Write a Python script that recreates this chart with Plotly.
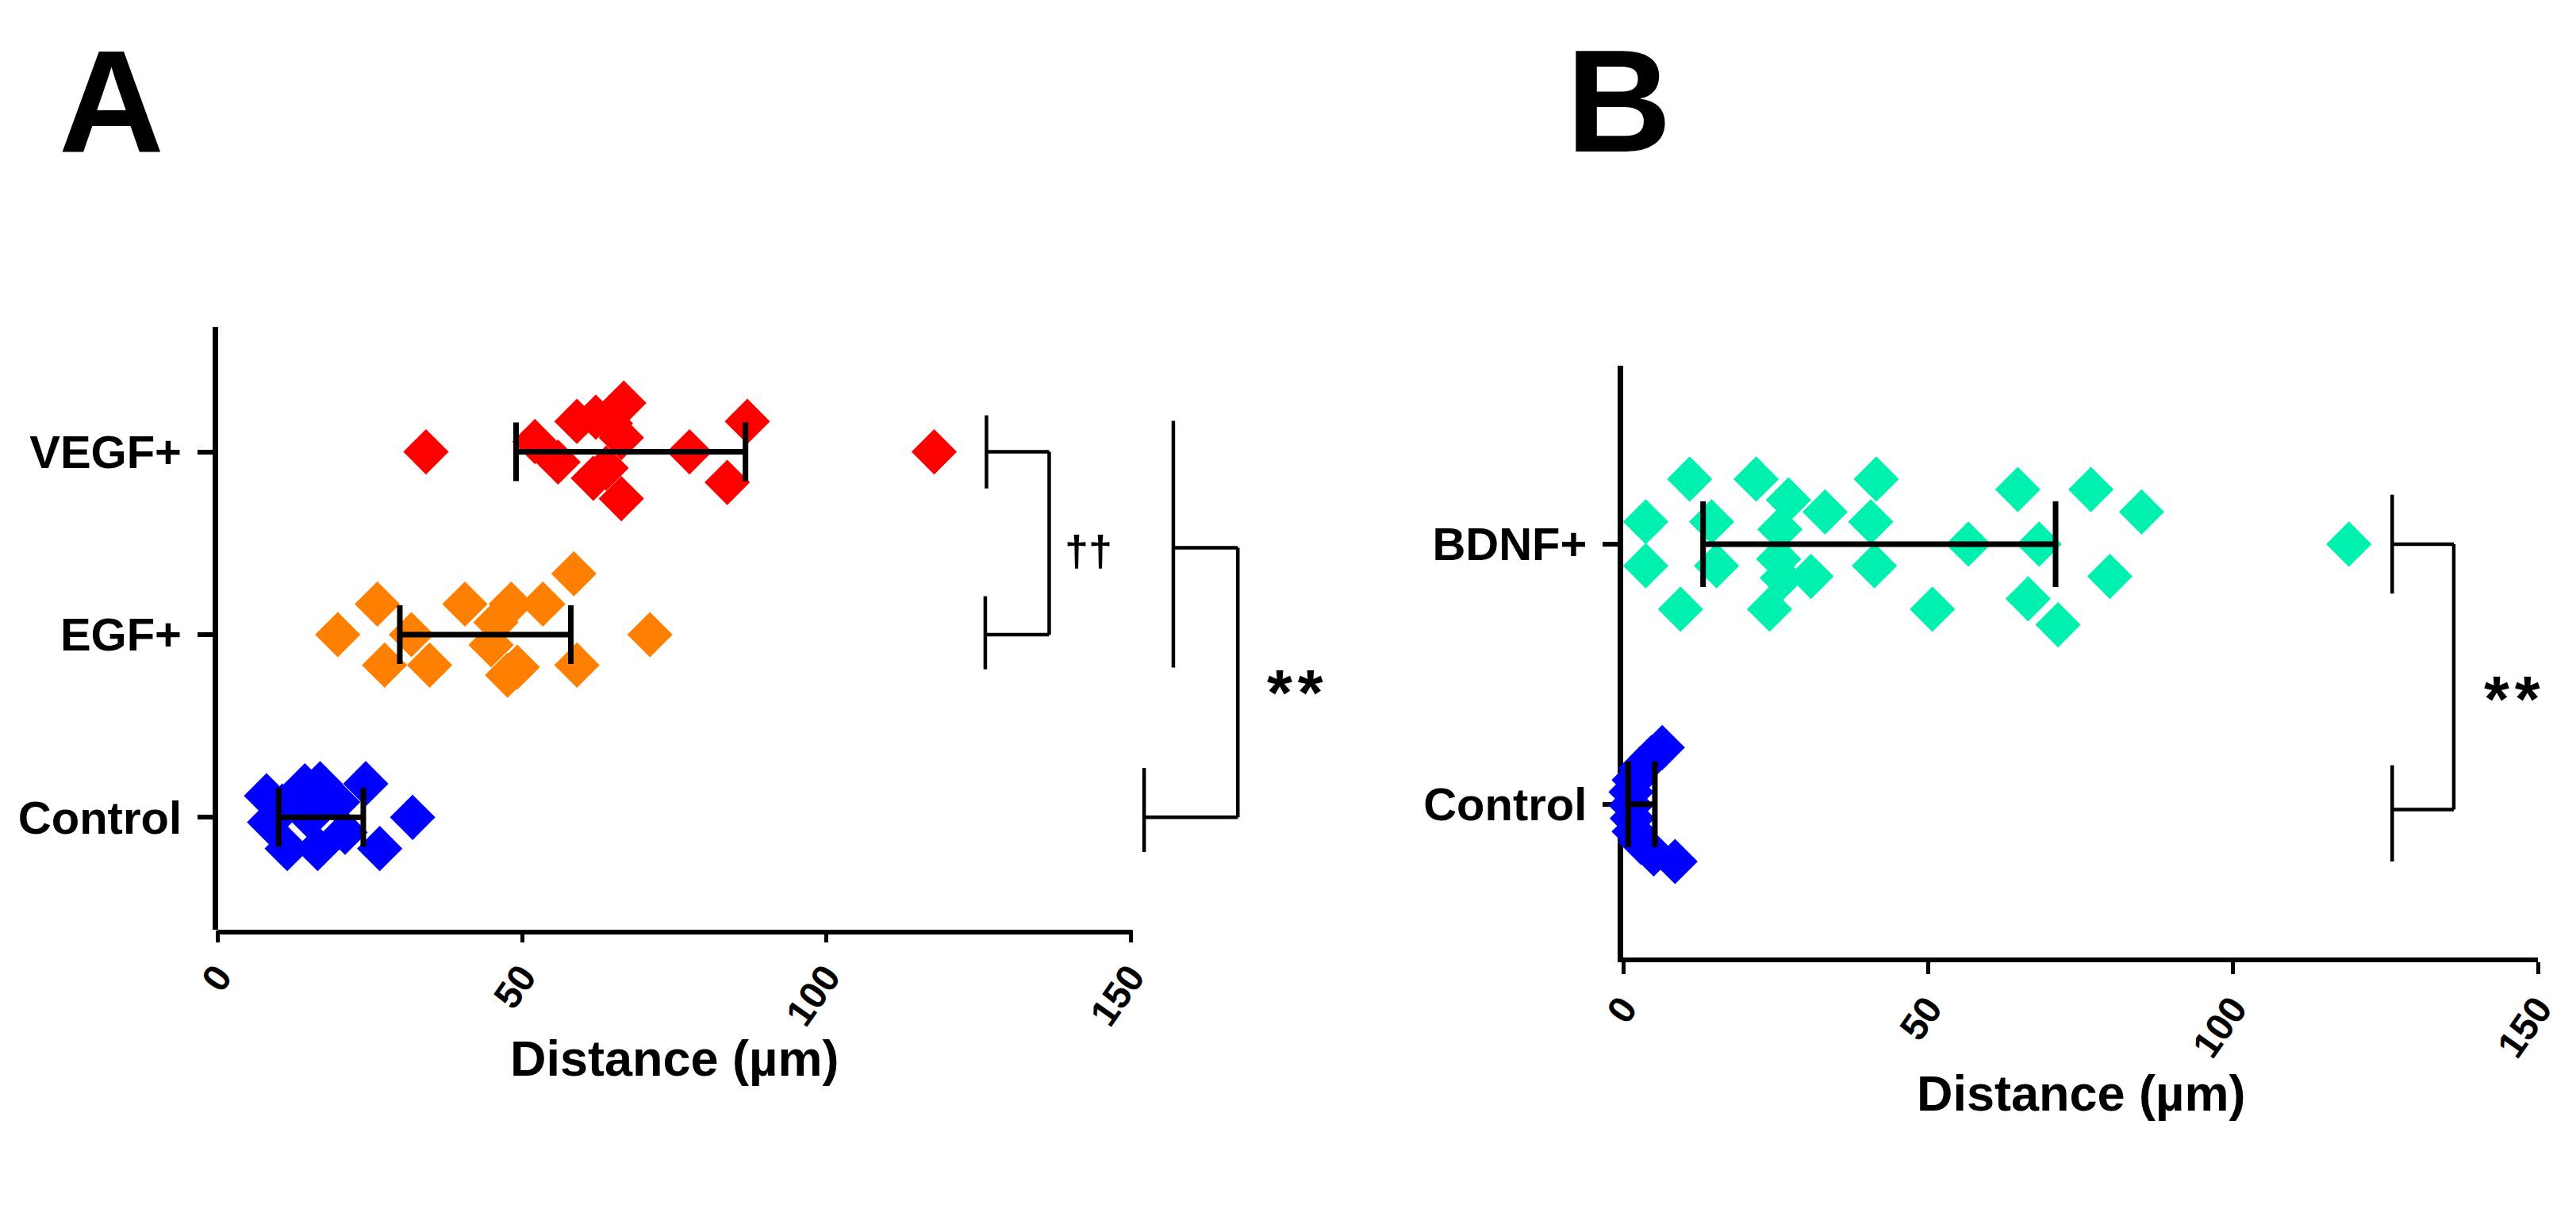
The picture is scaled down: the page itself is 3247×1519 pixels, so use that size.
import plotly.graph_objects as go

W, H = 3247, 1519
FONT = "Liberation Sans, Arial, sans-serif"

# ---------------- Panel A data ----------------
a_categories = ["Control", "EGF+", "VEGF+"]
a_control_x = [8.0, 8.5, 10.6, 11.4, 14.3, 15.1, 16.4, 16.8, 19.7, 20.9, 24.3, 26.6, 32.0]
a_control_dy = [0.118, -0.027, 0.062, -0.171, 0.173, 0.0, -0.171, 0.184, 0.084, -0.082, 0.184, -0.171, 0.0]
a_egf_x = [19.7, 26.2, 27.4, 31.8, 34.8, 40.6, 45.7, 48.2, 44.9, 49.2, 47.6, 53.4, 58.5, 59.0, 71.0]
a_egf_dy = [0.0, 0.167, -0.167, 0.0, -0.167, 0.167, 0.067, 0.167, -0.056, -0.178, -0.222, 0.167, 0.333, -0.167, 0.0]
a_vegf_x = [34.2, 52.1, 55.9, 59.0, 62.1, 66.7, 66.3, 61.7, 63.8, 66.3, 64.5, 77.5, 83.7, 87.0, 117.7]
a_vegf_dy = [0.0, 0.056, -0.056, 0.167, 0.19, 0.267, 0.078, -0.144, -0.089, -0.256, 0.156, 0.0, -0.167, 0.167, 0.0]
a_center = [16.95, 43.95, 67.85]   # centre of error bar
a_spread = [6.95, 14.05, 18.85]    # half-length of error bar

# ---------------- Panel B data ----------------
b_categories = ["Control", "BDNF+"]
b_control_x = [6.4, 4.6, 2.9, 1.8, 1.3, 1.3, 1.5, 1.8, 2.9, 5.0, 8.5]
b_control_dy = [0.218, 0.179, 0.139, 0.093, 0.047, -0.004, -0.054, -0.105, -0.146, -0.191, -0.22]
b_bdnf_x = [10.9, 3.7, 3.7, 14.5, 15.3, 9.4, 21.8, 27.1, 25.7, 25.5, 30.8, 26.1, 24.0, 33.1,
            41.5, 40.6, 41.2, 50.7, 56.6, 64.7, 68.2, 66.4, 71.3, 76.7, 79.8, 85.0, 119.0]
b_bdnf_dy = [0.25, 0.086, -0.083, 0.086, -0.083, -0.25, 0.25, 0.17, 0.057, -0.057, -0.124, -0.13, -0.25, 0.124,
             0.25, 0.086, -0.083, -0.25, 0.0, 0.21, 0.0, -0.21, -0.31, 0.21, -0.124, 0.124, 0.0]
b_center = [3.0, 42.0]
b_spread = [2.2, 28.9]

x_ticks = [0, 50, 100, 150]

RED, ORANGE, BLUE, TEAL = "#FF0000", "#FF8000", "#0000FF", "#00F0B0"
MSIZE = 44

fig = go.Figure()


def add_group(xs, dys, idx, color, xa, ya):
    fig.add_trace(go.Scatter(
        x=xs, y=[idx + d for d in dys], mode="markers", xaxis=xa, yaxis=ya,
        marker=dict(symbol="diamond", size=MSIZE, color=color, line=dict(width=0)),
        cliponaxis=False, showlegend=False, hoverinfo="x"))


add_group(a_control_x, a_control_dy, 0, BLUE, "x", "y")
add_group(a_egf_x, a_egf_dy, 1, ORANGE, "x", "y")
add_group(a_vegf_x, a_vegf_dy, 2, RED, "x", "y")
fig.add_trace(go.Scatter(
    x=a_center, y=[0, 1, 2], mode="markers", xaxis="x", yaxis="y",
    marker=dict(size=1, opacity=0), cliponaxis=False, showlegend=False,
    error_x=dict(type="data", array=a_spread, color="black", thickness=7, width=37)))

add_group(b_control_x, b_control_dy, 0, BLUE, "x2", "y2")
add_group(b_bdnf_x, b_bdnf_dy, 1, TEAL, "x2", "y2")
fig.add_trace(go.Scatter(
    x=b_center, y=[0, 1], mode="markers", xaxis="x2", yaxis="y2",
    marker=dict(size=1, opacity=0), cliponaxis=False, showlegend=False,
    error_x=dict(type="data", array=b_spread, color="black", thickness=7, width=54)))

# ---------------- axes ----------------
a_x0, a_ppu = 266.6, 7.671
a_xrange = [0, 185]
b_x0, b_ppu = 2038.0, 7.687
b_xrange = [0, 150]

tickfont_x = dict(family=FONT, size=48, color="black", weight="bold")
tickfont_y = dict(family=FONT, size=58, color="black", weight="bold")

fig.update_layout(
    width=W, height=H, autosize=False,
    margin=dict(l=0, r=0, t=0, b=0, pad=0),
    paper_bgcolor="white", plot_bgcolor="white",
    xaxis=dict(domain=[a_x0 / W, (a_x0 + a_xrange[1] * a_ppu) / W], range=a_xrange,
               showline=False, showgrid=False, zeroline=False, automargin=False,
               tickmode="array", tickvals=x_ticks, ticktext=[str(v) for v in x_ticks],
               ticks="outside", ticklen=15, tickwidth=5, tickcolor="black",
               tickangle=-55, tickfont=tickfont_x, ticklabelstandoff=-4, anchor="y"),
    yaxis=dict(domain=[1 - 1164 / H, 1 - 403.6 / H], range=[-0.615, 2.686],
               showline=True, linewidth=7, linecolor="black", showgrid=False, zeroline=False,
               automargin=False,
               tickmode="array", tickvals=[0, 1, 2], ticktext=a_categories,
               ticks="outside", ticklen=19, tickwidth=6, tickcolor="black",
               tickfont=tickfont_y, ticklabelstandoff=8, anchor="x", layer="below traces"),
    xaxis2=dict(domain=[b_x0 / W, (b_x0 + b_xrange[1] * b_ppu) / W], range=b_xrange,
                showline=True, linewidth=6, linecolor="black", showgrid=False, zeroline=False,
                automargin=False,
                tickmode="array", tickvals=x_ticks, ticktext=[str(v) for v in x_ticks],
                ticks="outside", ticklen=15, tickwidth=5, tickcolor="black",
                tickangle=-55, tickfont=tickfont_x, ticklabelstandoff=-4, anchor="y2"),
    yaxis2=dict(domain=[1 - 1199 / H, 1 - 453 / H], range=[-0.589, 1.686],
                showline=True, linewidth=7, linecolor="black", showgrid=False, zeroline=False,
                automargin=False,
                tickmode="array", tickvals=[0, 1], ticktext=b_categories,
                ticks="outside", ticklen=19, tickwidth=6, tickcolor="black",
                tickfont=tickfont_y, ticklabelstandoff=8, anchor="x2", layer="below traces"),
)

shapes = []
# Panel A x-axis line (only 0..150)
shapes.append(dict(type="line", xref="x", yref="paper", x0=-0.45, x1=150.3,
                   y0=1 - 1167 / H, y1=1 - 1167 / H, line=dict(color="black", width=6)))

BR = dict(color="black", width=4.5)


def seg(xref, yref, x0, y0, x1, y1):
    shapes.append(dict(type="line", xref=xref, yref=yref, x0=x0, y0=y0, x1=x1, y1=y1, line=BR, layer="above"))


# Panel A bracket VEGF vs EGF
seg("x", "y", 126.3, 2.2, 126.3, 1.8)
seg("x", "y", 126.3, 2.0, 136.6, 2.0)
seg("x", "y", 136.6, 2.0, 136.6, 1.0)
seg("x", "y", 126.3, 1.0, 136.6, 1.0)
seg("x", "y", 126.1, 1.21, 126.1, 0.81)
# Panel A bracket (VEGF+EGF) vs Control
seg("x", "y", 157.0, 2.17, 157.0, 0.82)
seg("x", "y", 157.0, 1.475, 167.6, 1.475)
seg("x", "y", 167.6, 1.475, 167.6, 0.0)
seg("x", "y", 152.2, 0.0, 167.6, 0.0)
seg("x", "y", 152.2, 0.27, 152.2, -0.19)
# Panel B bracket
seg("x2", "y2", 126.1, 1.19, 126.1, 0.81)
seg("x2", "y2", 126.1, 1.0, 136.2, 1.0)
seg("x2", "y2", 136.2, 1.0, 136.2, -0.02)
seg("x2", "y2", 126.1, -0.02, 136.2, -0.02)
seg("x2", "y2", 126.1, 0.15, 126.1, -0.22)
fig.update_layout(shapes=shapes)

ann = []
ann.append(dict(text="A", xref="paper", yref="paper", x=132 / W, y=1 - 119 / H,
                xanchor="center", yanchor="middle", showarrow=False,
                font=dict(family=FONT, size=184, color="black", weight="bold")))
ann.append(dict(text="B", xref="paper", yref="paper", x=2032 / W, y=1 - 119 / H,
                xanchor="center", yanchor="middle", showarrow=False,
                font=dict(family=FONT, size=184, color="black", weight="bold")))
ann.append(dict(text="Distance (µm)", xref="x", yref="paper", x=75, y=1 - 1326 / H,
                xanchor="center", yanchor="middle", showarrow=False,
                font=dict(family=FONT, size=63, color="black", weight="bold")))
ann.append(dict(text="Distance (µm)", xref="x2", yref="paper", x=75, y=1 - 1370 / H,
                xanchor="center", yanchor="middle", showarrow=False,
                font=dict(family=FONT, size=63, color="black", weight="bold")))
ann.append(dict(text="††", xref="x", yref="y", x=143.1, y=1.46,
                xanchor="center", yanchor="middle", showarrow=False,
                font=dict(family=FONT, size=54, color="black", weight="bold")))
ann.append(dict(text="*\u200a*", xref="x", yref="y", x=177.0, y=0.744, yshift=-14,
                xanchor="center", yanchor="middle", showarrow=False,
                font=dict(family=FONT, size=82, color="black", weight="bold")))
ann.append(dict(text="*\u200a*", xref="x2", yref="y2", x=145.8, y=0.449, yshift=-14,
                xanchor="center", yanchor="middle", showarrow=False,
                font=dict(family=FONT, size=82, color="black", weight="bold")))
fig.update_layout(annotations=ann)

fig.write_html("out.html")
